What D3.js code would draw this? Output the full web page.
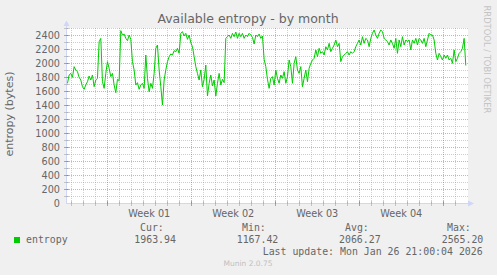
<!DOCTYPE html>
<html><head><meta charset="utf-8">
<script src="https://cdn.jsdelivr.net/npm/d3@7"></script>
<style>body{margin:0;background:#F0F0F0;} svg{display:block;}</style>
</head><body><svg id="c" width="497" height="275"></svg>
<script>
// ---- data ----
const title = "Available entropy - by month";
const yLabel = "entropy (bytes)";
const seriesName = "entropy";
const seriesColor = "#00CC00";
const viewStart = "2025-12-24T15:24:00Z";
const viewEnd = "2026-01-26T23:24:00Z";
const lastSample = "2026-01-26T21:00:00Z";
const sampleStepSec = 12000;
const entropy = [
1710,1829,1852,1795,1948,1900,1876,1795,1757,1662,
1624,1686,1733,1814,1757,1829,1662,1757,1781,2305,
2352,1733,1638,1852,2019,1924,1805,1852,1686,1576,
1767,1748,2462,2400,2414,2352,2319,2400,2338,2019,
1900,1686,1719,1624,1686,1710,1638,2114,1781,1590,
1710,1638,1852,2210,2257,1900,1662,1400,1757,1900,
2019,2090,2129,2114,2176,2162,2210,2138,2424,2448,
2386,2424,2338,2400,2290,2233,2090,1948,1852,1757,
1900,1662,1767,1971,1529,1710,1829,1671,1757,1529,
1710,1852,1686,1767,1719,2352,2376,2400,2352,2424,
2376,2443,2352,2424,2376,2424,2352,2400,2376,2424,
2400,2367,2271,2400,2376,2414,2352,2386,2052,1948,
1767,1638,1781,
1805,1686,1900,1781,1710,1829,1781,1876,1710,1805,
2043,1948,1710,1995,2090,1900,1852,1948,1662,1781,
1900,1733,1924,1995,2043,2067,2186,2090,2210,2138,
2162,2114,2233,2186,2281,2162,2210,2257,2329,2233,
2281,2019,2090,2114,2138,2162,2114,2162,2138,2162,
2233,2281,2329,2257,2376,2281,2352,2329,2233,2352,
2424,2471,2400,2352,2424,2471,2448,2352,2329,2305,
2257,2329,2281,2210,2352,2138,2329,2233,2376,2257,
2329,2305,2329,2186,2329,2281,2352,2257,2352,2329,
2281,2352,2233,2329,2424,2400,2400,2329,2138,2043,
2138,2090,2043,2114,2067,2114,2043,2067,1995,2186,
2019,2067,2138,2162,2210,2352,
1964
];
const yMax = 2500;
const yTicks = [0,200,400,600,800,1000,1200,1400,1600,1800,2000,2200,2400];
const weekLabels = ["Week 01","Week 02","Week 03","Week 04"];
const legendHeads = ["Cur:","Min:","Avg:","Max:"];
const legendValues = ["1963.94","1167.42","2066.27","2565.20"];
const lastUpdate = "Last update: Mon Jan 26 21:00:04 2026";
const watermark = "RRDTOOL / TOBI OETIKER";
const footer = "Munin 2.0.75";

// ---- drawing ----
const svg = d3.select("#c");
const X0 = 67, X1 = 467, Y0 = 203, Y1 = 28;
const t0 = new Date(viewStart), t1 = new Date(viewEnd);
const x = d3.scaleUtc().domain([t0, t1]).range([X0, X1]);
const y = d3.scaleLinear().domain([0, yMax]).range([Y0, Y1]);
const tLast = new Date(lastSample).getTime();
const data = entropy.map((v, i) => ({t: new Date(tLast - (entropy.length - 1 - i) * sampleStepSec * 1000), v}));
const px = v => Math.round(v) + 0.5;

svg.append("rect").attr("width", 497).attr("height", 275).attr("fill", "#F0F0F0");
svg.append("rect").attr("x", X0).attr("y", Y1).attr("width", X1 - X0 + 1).attr("height", Y0 - Y1).attr("fill", "#FFFFFF");

const grid = svg.append("g");
const minorCol = "rgba(140,140,140,0.42)", majorCol = "rgba(190,50,50,0.42)";
// horizontal grid
const hMinor = d3.range(100, yMax + 1, 100).filter(v => v % 200 !== 0);
grid.selectAll(".hm").data(hMinor).join("line")
  .attr("x1", X0).attr("x2", X1 + 1).attr("y1", d => px(y(d))).attr("y2", d => px(y(d)))
  .attr("stroke", minorCol).attr("stroke-dasharray", "1,1");
grid.selectAll(".hM").data(yTicks.filter(d => d > 0)).join("line")
  .attr("x1", X0).attr("x2", X1 + 1).attr("y1", d => px(y(d))).attr("y2", d => px(y(d)))
  .attr("stroke", majorCol).attr("stroke-dasharray", "1,1");
// vertical grid
const sundays = d3.utcSunday.range(t0, t1);
const days = d3.utcDay.range(d3.utcDay.ceil(t0), t1).filter(d => d.getUTCDay() !== 0);
grid.selectAll(".vm").data(days).join("line")
  .attr("x1", d => px(x(d))).attr("x2", d => px(x(d))).attr("y1", Y1).attr("y2", Y0)
  .attr("stroke", minorCol).attr("stroke-dasharray", "1,1");
grid.selectAll(".vM").data(sundays).join("line")
  .attr("x1", d => px(x(d))).attr("x2", d => px(x(d))).attr("y1", Y1).attr("y2", Y0)
  .attr("stroke", majorCol).attr("stroke-dasharray", "1,1");

// series line
svg.append("path").datum(data)
  .attr("fill", "none").attr("stroke", seriesColor).attr("stroke-width", 1)
  .attr("d", d3.line().x(d => x(d.t)).y(d => y(d.v)));

// axes
const axisCol = "#CFD6F8";
svg.append("line").attr("x1", X0 - 0.5).attr("x2", X0 - 0.5).attr("y1", Y0 + 0.5).attr("y2", 24).attr("stroke", axisCol);
svg.append("line").attr("x1", X0 - 1).attr("x2", X1 + 2).attr("y1", Y0 + 0.5).attr("y2", Y0 + 0.5).attr("stroke", axisCol);
svg.append("path").attr("d", `M${X0-3.5},26 L${X0+2.5},26 L${X0-0.5},20.5 Z`).attr("fill", axisCol);
svg.append("path").attr("d", `M${X1+1},200.5 L${X1+1},206.5 L${X1+7},203.5 Z`).attr("fill", axisCol);
// ticks
svg.selectAll(".xt").data(days).join("line")
  .attr("x1", d => px(x(d))).attr("x2", d => px(x(d))).attr("y1", Y0 - 2).attr("y2", Y0 + 3)
  .attr("stroke", "rgba(140,140,140,0.45)");
svg.selectAll(".xT").data(sundays).join("line")
  .attr("x1", d => px(x(d))).attr("x2", d => px(x(d))).attr("y1", Y0 - 2).attr("y2", Y0 + 3)
  .attr("stroke", "rgba(200,60,60,0.55)");
svg.selectAll(".yt").data(hMinor).join("line")
  .attr("x1", X0 - 3).attr("x2", X0 + 2).attr("y1", d => px(y(d))).attr("y2", d => px(y(d)))
  .attr("stroke", "rgba(140,140,140,0.45)");
svg.selectAll(".yT").data(yTicks.filter(d => d > 0)).join("line")
  .attr("x1", X0 - 3).attr("x2", X0 + 2).attr("y1", d => px(y(d))).attr("y2", d => px(y(d)))
  .attr("stroke", "rgba(200,60,60,0.55)");

const fontCol = "#666666";
const sans = "'DejaVu Sans', sans-serif", mono = "'DejaVu Sans Mono', monospace";
// y tick labels
svg.selectAll(".yl").data(yTicks).join("text")
  .attr("x", 60).attr("y", d => y(d) + 3.6).attr("text-anchor", "end")
  .attr("font-family", sans).attr("font-size", 9.7).attr("fill", fontCol).text(d => d);
// week labels (centered mid-week)
const weekCenters = sundays.map(d => new Date(d.getTime() + 3.5 * 86400000)).filter(d => d < t1);
svg.selectAll(".wl").data(weekCenters).join("text")
  .attr("x", d => x(d)).attr("y", 216.5).attr("text-anchor", "middle")
  .attr("font-family", sans).attr("font-size", 9.7).attr("fill", fontCol).text((d, i) => weekLabels[i]);

// title
svg.append("text").attr("x", 248).attr("y", 23).attr("text-anchor", "middle")
  .attr("font-family", sans).attr("font-size", 12.5).attr("fill", fontCol).text(title);
// y label
svg.append("text").attr("transform", "translate(12.5,114) rotate(-90)").attr("text-anchor", "middle")
  .attr("font-family", sans).attr("font-size", 11).attr("fill", fontCol).text(yLabel);
// watermark
svg.append("text").attr("transform", "translate(484,5.5) rotate(90)").attr("text-anchor", "start")
  .attr("font-family", sans).attr("font-size", 8.4).attr("fill", "#C4C4C4").text(watermark);

// legend
const headX = [140, 242, 345, 447];
const valX = [134.3, 236.7, 339, 441.7];
svg.selectAll(".lh").data(legendHeads).join("text")
  .attr("x", (d, i) => headX[i]).attr("y", 231.3)
  .attr("font-family", mono).attr("font-size", 9.9).attr("fill", fontCol).text(d => d);
svg.selectAll(".lv").data(legendValues).join("text")
  .attr("x", (d, i) => valX[i]).attr("y", 243.3)
  .attr("font-family", mono).attr("font-size", 9.9).attr("fill", fontCol).text(d => d);
svg.append("rect").attr("x", 14).attr("y", 237).attr("width", 6).attr("height", 6).attr("fill", seriesColor);
svg.append("text").attr("x", 26).attr("y", 243.3)
  .attr("font-family", mono).attr("font-size", 9.9).attr("fill", fontCol).text(seriesName);
svg.append("text").attr("x", 482.7).attr("y", 255).attr("text-anchor", "end")
  .attr("font-family", mono).attr("font-size", 9.9).attr("fill", fontCol).text(lastUpdate);
svg.append("text").attr("x", 248).attr("y", 265.8).attr("text-anchor", "middle")
  .attr("font-family", sans).attr("font-size", 7.5).attr("fill", "#C0C0C0").text(footer);
</script>
</body></html>
